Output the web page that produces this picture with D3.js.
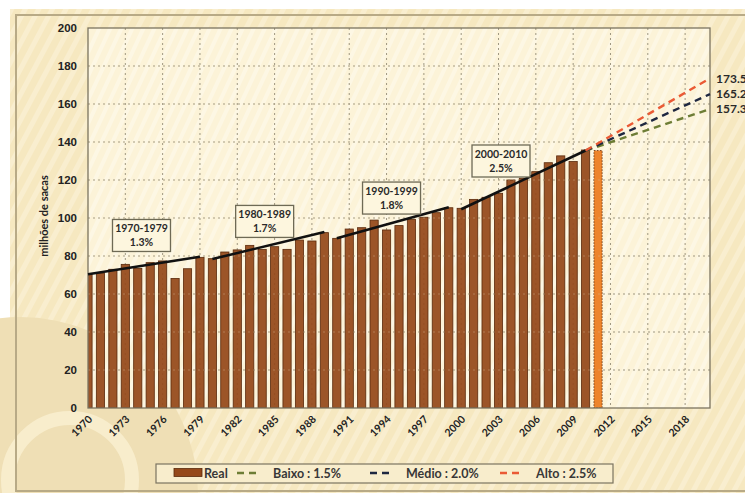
<!DOCTYPE html>
<html>
<head>
<meta charset="utf-8">
<script src="https://cdn.jsdelivr.net/npm/d3@7"></script>
<style>
  html, body { margin: 0; padding: 0; background: #fff; }
  svg { display: block; font-family: Lato, "Open Sans", sans-serif; }
  .tick text { font-weight: bold; fill: #222; }
  .caixa text { font-weight: bold; fill: #2a2a2a; font-size: 10.5px; }
  .legenda text { font-weight: bold; fill: #383838; font-size: 12.5px; }
  .xlab { font-weight: bold; fill: #222; font-size: 10.5px; }
</style>
</head>
<body>
<svg id="chart" width="745" height="493"></svg>
<script>
"use strict"

// producao real (milhoes de sacas)
const anos = [1970, 1971, 1972, 1973, 1974, 1975, 1976, 1977, 1978, 1979,
              1980, 1981, 1982, 1983, 1984, 1985, 1986, 1987, 1988, 1989,
              1990, 1991, 1992, 1993, 1994, 1995, 1996, 1997, 1998, 1999,
              2000, 2001, 2002, 2003, 2004, 2005, 2006, 2007, 2008, 2009,
              2010, 2011]
const producao = [70.4, 71.0, 73.0, 75.6, 73.5, 76.5, 77.4, 68.2, 73.3, 79.3,
                  78.6, 82.1, 83.2, 85.6, 83.5, 84.9, 83.5, 88.4, 87.9, 92.3,
                  89.3, 94.2, 94.9, 98.9, 93.7, 96.0, 99.3, 100.4, 102.8, 105.4,
                  105.1, 109.8, 110.9, 113.0, 120.0, 120.9, 124.4, 129.1, 132.7, 129.7,
                  135.8, 135.5]

// tendencias por decada
const periodos = ["1970-1979", "1980-1989", "1990-1999", "2000-2010"]
const taxas    = ["1.3%", "1.7%", "1.8%", "2.5%"]
const tendencias = [
    [[1970, 70.4], [1979, 79.6]],
    [[1980, 78.4], [1989, 92.6]],
    [[1990, 89.3], [1999, 105.6]],
    [[2000, 104.6], [2010, 135.5]]
]

// projecoes ate 2020
const cenarios = ["Baixo", "Médio", "Alto"]
const cenTaxas = ["1.5%", "2.0%", "2.5%"]
const projecoes = [
    [[2010, 135.5], [2020, 157.3]],
    [[2010, 135.5], [2020, 165.2]],
    [[2010, 135.5], [2020, 173.5]]
]

const yTicks = [0, 20, 40, 60, 80, 100, 120, 140, 160, 180, 200]
const xTicks = [1970, 1973, 1976, 1979, 1982, 1985, 1988, 1991, 1994, 1997,
                2000, 2003, 2006, 2009, 2012, 2015, 2018]

// layout
const cores = ["#6d7d35", "#1e2740", "#ea5a35"]
const caixaPos = [[1974.3, 90.8], [1984.2, 98.2], [1994.4, 110.5], [2003.2, 130]]

const svg = d3.select("#chart")
const W = 745, H = 493
const plot = {left: 88, top: 28, right: 710, bottom: 408}

const x = d3.scaleLinear().domain([1970, 2020]).range([plot.left, plot.right])
const y = d3.scaleLinear().domain([0, 200]).range([plot.bottom, plot.top])

const defs = svg.append("defs")
const pat = defs.append("pattern").attr("id", "listras")
    .attr("width", 12).attr("height", 12)
    .attr("patternUnits", "userSpaceOnUse")
    .attr("patternTransform", "rotate(28)")
pat.append("rect").attr("width", 12).attr("height", 12).attr("fill", "#f6e8c0")
pat.append("rect").attr("width", 5).attr("height", 12).attr("fill", "#f9eecf")

const pat2 = defs.append("pattern").attr("id", "listras2")
    .attr("width", 10).attr("height", 10)
    .attr("patternUnits", "userSpaceOnUse")
    .attr("patternTransform", "rotate(25)")
pat2.append("rect").attr("width", 10).attr("height", 10).attr("fill", "#fcf3d8")
pat2.append("rect").attr("width", 4).attr("height", 10).attr("fill", "#fdf7e4")

defs.append("clipPath").attr("id", "clip")
    .append("rect")
    .attr("x", plot.left).attr("y", plot.top)
    .attr("width", plot.right - plot.left).attr("height", plot.bottom - plot.top)

// caminhos diagonais para os rotulos do eixo x
defs.selectAll("path.diag").data(xTicks).join("path")
    .attr("class", "diag")
    .attr("id", d => "diag" + d)
    .attr("d", d => `M${x(d) + 5 - 40},${plot.bottom + 12 + 40}L${x(d) + 5},${plot.bottom + 12}`)

// fundo
svg.append("rect").attr("width", W).attr("height", H).attr("fill", "#fff")
svg.append("rect").attr("x", 10).attr("y", 9).attr("width", W - 10).attr("height", H - 9)
    .attr("fill", "url(#listras)")
svg.append("circle").attr("cx", 20).attr("cy", 495).attr("r", 178).attr("fill", "#efdfb5")
svg.append("circle").attr("cx", 70).attr("cy", 480).attr("r", 62)
    .attr("fill", "none").attr("stroke", "#f8edcc").attr("stroke-width", 14)
svg.append("rect").attr("x", 16).attr("y", 15).attr("width", W).attr("height", H - 17)
    .attr("fill", "none").attr("stroke", "#b8aa86").attr("stroke-width", 2)

// area do grafico
svg.append("rect")
    .attr("x", plot.left).attr("y", plot.top)
    .attr("width", plot.right - plot.left).attr("height", plot.bottom - plot.top)
    .attr("fill", "url(#listras2)")

const grade = svg.append("g").attr("class", "grade")
    .attr("stroke", "#9f9780").attr("stroke-width", 1).attr("stroke-dasharray", "2,3")
grade.selectAll("line.h").data(yTicks.filter(d => d > 0 && d < 200)).join("line")
    .attr("class", "h")
    .attr("x1", plot.left).attr("x2", plot.right)
    .attr("y1", d => y(d)).attr("y2", d => y(d))
grade.selectAll("line.v").data(xTicks.filter(d => d > 1970)).join("line")
    .attr("class", "v")
    .attr("x1", d => x(d)).attr("x2", d => x(d))
    .attr("y1", plot.top).attr("y2", plot.bottom)

// barras
const bw = 8.2
const barras = svg.append("g").attr("clip-path", "url(#clip)")
barras.selectAll("rect").data(anos).join("rect")
    .attr("x", d => x(d) - bw / 2)
    .attr("y", (d, i) => y(producao[i]))
    .attr("width", bw)
    .attr("height", (d, i) => y(0) - y(producao[i]))
    .attr("fill", (d, i) => i == anos.length - 1 ? "#ec7b1e" : "#95481a")
    .attr("fill-opacity", 0.93)
    .attr("stroke", "#5a2a0c")
    .attr("stroke-width", 0.8)
    .attr("stroke-dasharray", (d, i) => i == anos.length - 1 ? "1.5,1.5" : null)

// grade por cima (transparece nas barras)
svg.append("g").attr("stroke", "#e9d9b5").attr("stroke-width", 1)
    .attr("stroke-dasharray", "2,3").attr("opacity", 0.35)
    .selectAll("line").data(yTicks.filter(d => d > 0 && d < 200)).join("line")
    .attr("x1", plot.left).attr("x2", x(2011) + bw / 2)
    .attr("y1", d => y(d)).attr("y2", d => y(d))

// borda
svg.append("rect")
    .attr("x", plot.left).attr("y", plot.top)
    .attr("width", plot.right - plot.left).attr("height", plot.bottom - plot.top)
    .attr("fill", "none").attr("stroke", "#7b7460").attr("stroke-width", 1.3)

// linhas de tendencia
const linha = d3.line().x(d => x(d[0])).y(d => y(d[1]))
svg.append("g").selectAll("path").data(tendencias).join("path")
    .attr("d", linha)
    .attr("fill", "none").attr("stroke", "#111").attr("stroke-width", 2.6)

// projecoes
svg.append("g").selectAll("path").data(projecoes).join("path")
    .attr("d", linha)
    .attr("fill", "none")
    .attr("stroke", (d, i) => cores[i])
    .attr("stroke-width", 2.4)
    .attr("stroke-dasharray", "7,5")

svg.append("g").selectAll("text").data(projecoes).join("text")
    .attr("x", d => x(d[1][0]) + 6)
    .attr("y", d => y(d[1][1]))
    .attr("dy", "0.35em")
    .attr("font-size", 12).attr("font-weight", "bold").attr("fill", "#2a2a2a")
    .text(d => d3.format(".1f")(d[1][1]))

// caixas de anotacao
const caixas = svg.append("g").attr("class", "caixa")
    .selectAll("g").data(periodos).join("g")
    .attr("transform", (d, i) => `translate(${x(caixaPos[i][0])},${y(caixaPos[i][1])})`)
caixas.append("rect")
    .attr("x", -29).attr("y", -16).attr("width", 58).attr("height", 32)
    .attr("fill", "#fdf6de").attr("stroke", "#6e6a55").attr("stroke-width", 1.3)
caixas.append("text").attr("text-anchor", "middle").attr("y", -3).text(d => d)
caixas.append("text").attr("text-anchor", "middle").attr("y", 11).text((d, i) => taxas[i])

// eixos
const yAxis = svg.append("g")
    .attr("transform", `translate(${plot.left},0)`)
    .call(d3.axisLeft(y).tickValues(yTicks).tickSize(0).tickPadding(11))
yAxis.select(".domain").remove()
yAxis.selectAll("text").attr("font-size", 11.5)

// rotulos do eixo x ao longo da diagonal
svg.append("g").selectAll("text").data(xTicks).join("text")
    .attr("class", "xlab")
    .attr("text-anchor", "end")
    .append("textPath")
    .attr("href", d => "#diag" + d)
    .attr("startOffset", "100%")
    .text(d => d)

svg.append("text")
    .attr("transform", `translate(48,216) rotate(-90)`)
    .attr("text-anchor", "middle")
    .attr("font-size", 11).attr("font-weight", "bold").attr("fill", "#222")
    .text("milhões de sacas")

// legenda
const leg = svg.append("g").attr("class", "legenda")
leg.append("rect").attr("x", 156).attr("y", 464).attr("width", 457).attr("height", 19)
    .attr("fill", "#f8edcc").attr("stroke", "#7b7460").attr("stroke-width", 1.2)
leg.append("rect").attr("x", 174).attr("y", 468.5).attr("width", 28).attr("height", 8)
    .attr("fill", "#95481a").attr("stroke", "#5a2a0c").attr("stroke-width", 0.8)
leg.append("text").attr("x", 204).attr("y", 478).text("Real")

const legX = [237, 370, 500]
const legItens = leg.selectAll("g.item").data(cenarios).join("g").attr("class", "item")
legItens.append("line")
    .attr("x1", (d, i) => legX[i]).attr("x2", (d, i) => legX[i] + 20)
    .attr("y1", 473).attr("y2", 473)
    .attr("stroke", (d, i) => cores[i]).attr("stroke-width", 2.4)
    .attr("stroke-dasharray", "7,5")
legItens.append("text")
    .attr("x", (d, i) => legX[i] + 36).attr("y", 478)
    .text((d, i) => `${d} : ${cenTaxas[i]}`)
</script>
</body>
</html>
